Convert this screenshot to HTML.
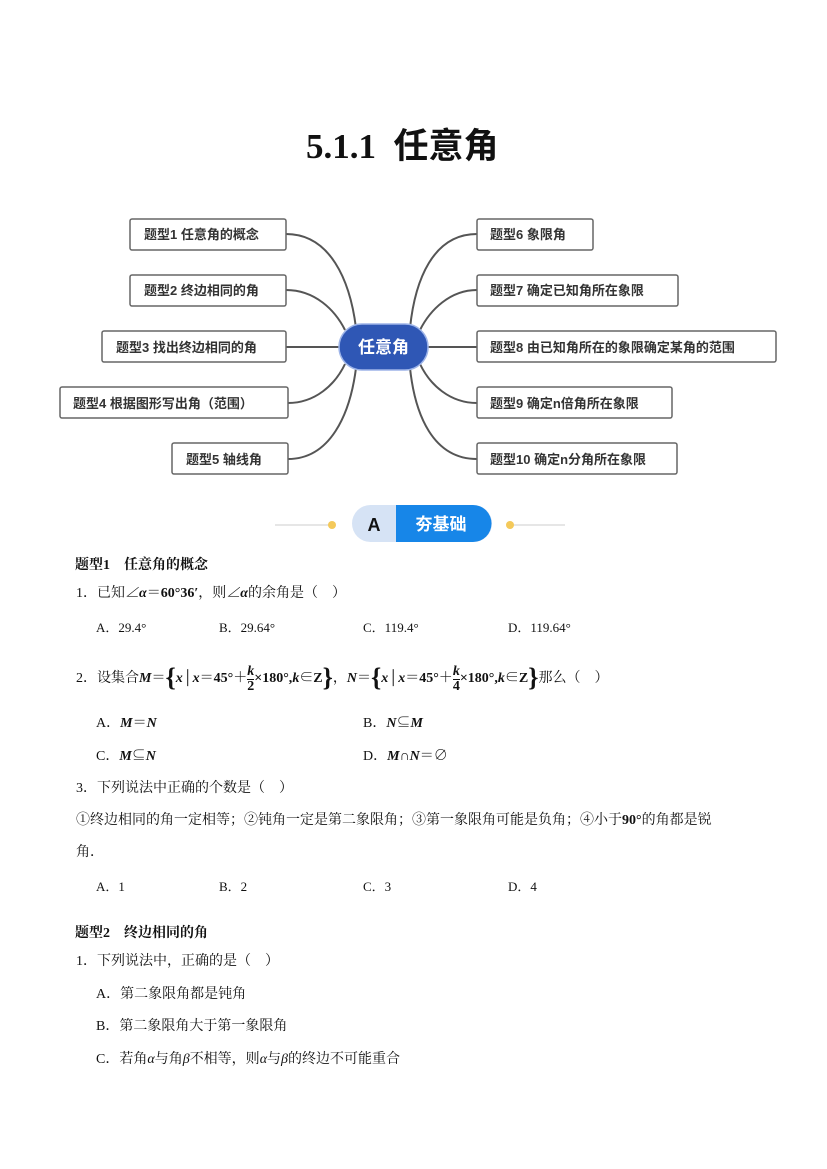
<!DOCTYPE html>
<html><head><meta charset="utf-8"><style>
body{margin:0;background:#fff;}
.p{position:relative;width:827px;height:1169px;overflow:hidden;font-family:"Liberation Serif","Noto Serif CJK SC","Noto Sans CJK SC",serif;color:#111;}
.t{position:absolute;white-space:nowrap;font-size:14px;line-height:16px;}
.b{font-weight:bold;}
</style></head><body><div class="p">
<div class="t b" style="left:306px;top:127px;font-size:35px;line-height:40px;font-family:'Liberation Serif','Noto Sans CJK SC',serif;">5.1.1&nbsp; 任意角</div>
<svg width="827" height="560" style="position:absolute;left:0;top:0" font-family="Liberation Sans, Noto Sans CJK SC, sans-serif">
<g fill="none" stroke="#555" stroke-width="2">
<path d="M286 234 C330 234 350 280 356 328"/>
<path d="M286 290 C315 290 335 310 345 330"/>
<path d="M286 347 H340"/>
<path d="M288 403 C315 403 335 385 345 364"/>
<path d="M288 459 C330 459 350 415 356 368"/>
<path d="M477 234 C433 234 415 280 410 328"/>
<path d="M477 290 C450 290 430 310 420 330"/>
<path d="M477 347 H427"/>
<path d="M477 403 C450 403 430 385 420 364"/>
<path d="M477 459 C433 459 415 415 410 368"/>
</g>
<g fill="#fff" stroke="#666" stroke-width="1.5">
<rect x="130" y="219" width="156" height="31" rx="2"/>
<rect x="130" y="275" width="156" height="31" rx="2"/>
<rect x="102" y="331" width="184" height="31" rx="2"/>
<rect x="60" y="387" width="228" height="31" rx="2"/>
<rect x="172" y="443" width="116" height="31" rx="2"/>
<rect x="477" y="219" width="116" height="31" rx="2"/>
<rect x="477" y="275" width="201" height="31" rx="2"/>
<rect x="477" y="331" width="299" height="31" rx="2"/>
<rect x="477" y="387" width="195" height="31" rx="2"/>
<rect x="477" y="443" width="200" height="31" rx="2"/>
</g>
<rect x="339" y="324" width="89" height="46" rx="23" fill="#2f57b5" stroke="#9db4e8" stroke-width="1.5"/>
<text x="383.5" y="353" fill="#fff" font-size="17" font-weight="bold" text-anchor="middle">任意角</text>
<g font-size="13" font-weight="bold" fill="#333">
<text x="144" y="239">题型1  任意角的概念</text>
<text x="144" y="295">题型2  终边相同的角</text>
<text x="116" y="352">题型3  找出终边相同的角</text>
<text x="73" y="408">题型4  根据图形写出角（范围）</text>
<text x="186" y="464">题型5  轴线角</text>
<text x="490" y="239">题型6  象限角</text>
<text x="490" y="295">题型7  确定已知角所在象限</text>
<text x="490" y="352">题型8  由已知角所在的象限确定某角的范围</text>
<text x="490" y="408">题型9  确定n倍角所在象限</text>
<text x="490" y="464">题型10 确定n分角所在象限</text>
</g>
<line x1="275" y1="525" x2="330" y2="525" stroke="#ddd" stroke-width="1.5"/>
<line x1="512" y1="525" x2="565" y2="525" stroke="#ddd" stroke-width="1.5"/>
<circle cx="332" cy="525" r="4" fill="#f4c95a"/>
<circle cx="510" cy="525" r="4" fill="#f4c95a"/>
<rect x="352" y="505" width="140" height="37" rx="18.5" fill="#d6e3f5"/>
<path d="M396 505 H473 A18.5 18.5 0 0 1 473 542 H396 Z" fill="#1786e8"/>
<text x="374" y="531" font-size="18" font-weight="bold" text-anchor="middle" fill="#111">A</text>
<text x="441" y="530" font-size="17" font-weight="bold" text-anchor="middle" fill="#fff">夯基础</text>
</svg>
<div class="t b" style="left:75px;top:558px">题型1　任意角的概念</div>
<div class="t" style="left:76px;top:586px">1．已知<b><i>∠α</i>＝60°36′</b>，则<b><i>∠α</i></b>的余角是（　）</div>
<div class="t" style="left:96px;top:620px;font-size:13px">A．29.4°</div>
<div class="t" style="left:219px;top:620px;font-size:13px">B．29.64°</div>
<div class="t" style="left:363px;top:620px;font-size:13px">C．119.4°</div>
<div class="t" style="left:508px;top:620px;font-size:13px">D．119.64°</div>
<div class="t" style="left:76px;top:665px">2．设集合<b><i>M</i>＝<span style="font-size:26px;vertical-align:-4px">{</span><i>x</i>│<i>x</i>＝45°＋<span style="display:inline-block;vertical-align:-8px;text-align:center;line-height:14px"><i>k</i><br><span style="border-top:1px solid #111;display:block">2</span></span>×180°,<i>k</i>∈Z<span style="font-size:26px;vertical-align:-4px">}</span></b>，<b><i>N</i>＝<span style="font-size:26px;vertical-align:-4px">{</span><i>x</i>│<i>x</i>＝45°＋<span style="display:inline-block;vertical-align:-8px;text-align:center;line-height:14px"><i>k</i><br><span style="border-top:1px solid #111;display:block">4</span></span>×180°,<i>k</i>∈Z<span style="font-size:26px;vertical-align:-4px">}</span></b>那么（　）</div>
<div class="t" style="left:96px;top:716px">A．<b><i>M</i>＝<i>N</i></b></div>
<div class="t" style="left:363px;top:716px">B．<b><i>N</i>⊆<i>M</i></b></div>
<div class="t" style="left:96px;top:749px">C．<b><i>M</i>⊆<i>N</i></b></div>
<div class="t" style="left:363px;top:749px">D．<b><i>M</i>∩<i>N</i>＝∅</b></div>
<div class="t" style="left:76px;top:781px">3．下列说法中正确的个数是（　）</div>
<div class="t" style="left:76px;top:813px">①终边相同的角一定相等；②钝角一定是第二象限角；③第一象限角可能是负角；④小于<b>90°</b>的角都是锐</div>
<div class="t" style="left:76px;top:845px">角．</div>
<div class="t" style="left:96px;top:879px;font-size:13px">A．1</div>
<div class="t" style="left:219px;top:879px;font-size:13px">B．2</div>
<div class="t" style="left:363px;top:879px;font-size:13px">C．3</div>
<div class="t" style="left:508px;top:879px;font-size:13px">D．4</div>
<div class="t b" style="left:75px;top:926px">题型2　终边相同的角</div>
<div class="t" style="left:76px;top:954px">1．下列说法中，正确的是（　）</div>
<div class="t" style="left:96px;top:987px">A．第二象限角都是钝角</div>
<div class="t" style="left:96px;top:1019px">B．第二象限角大于第一象限角</div>
<div class="t" style="left:96px;top:1052px">C．若角<i>α</i>与角<i>β</i>不相等，则<i>α</i>与<i>β</i>的终边不可能重合</div>
</div></body></html>
